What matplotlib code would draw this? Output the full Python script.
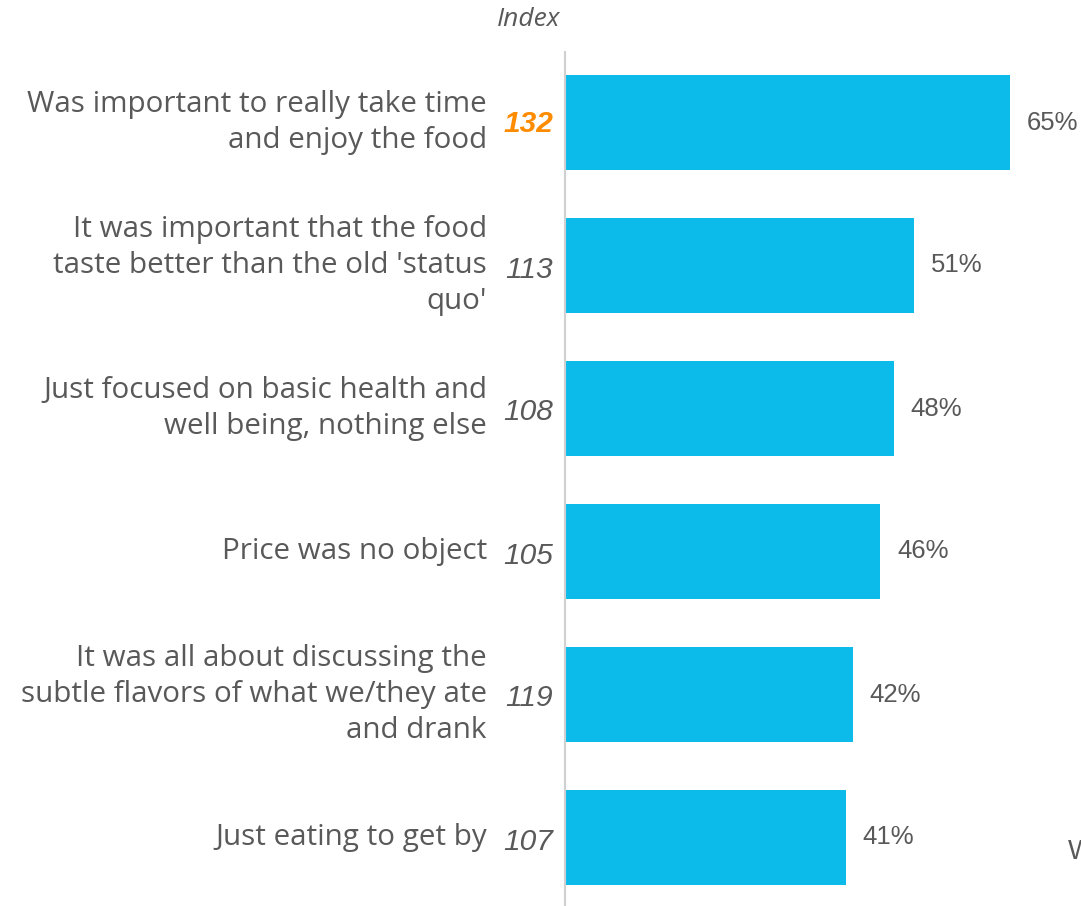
import matplotlib.pyplot as plt

labels = ["Was important to really take time\nand enjoy the food",
          "It was important that the food\ntaste better than the old 'status\nquo'",
          "Just focused on basic health and\nwell being, nothing else",
          "Price was no object",
          "It was all about discussing the\nsubtle flavors of what we/they ate\nand drank",
          "Just eating to get by"]
values = [65, 51, 48, 46, 42, 41]
index_vals = [132, 113, 108, 105, 119, 107]

W, H = 1081, 906
fig = plt.figure(figsize=(W / 100, H / 100), dpi=100)
# axes: left edge at 565px, top at 52px, down to bottom of figure
ax = fig.add_axes([565 / W, 0, 1 - 565 / W, 1 - 52 / H])

pitch = 143.0
ax.set_ylim((906 - 122.5) / pitch, -(122.5 - 52) / pitch)
ax.set_xlim(0, (W - 565) / (445 / 65))

pos = list(range(len(values)))
ax.barh(pos, values, height=95 / pitch, color="#0DBBEB")

for s in ["top", "right", "bottom"]:
    ax.spines[s].set_visible(False)
ax.spines["left"].set_color("#D0D0D0")
ax.spines["left"].set_linewidth(1.5)
ax.set_xticks([])
ax.set_yticks([])

gray = "#595959"
for i, (lab, v, idx) in enumerate(zip(labels, values, index_vals)):
    ax.text(v + 2.5, i, f"{v}%", va="center", ha="left", fontsize=18.5,
            color=gray, family="Liberation Sans")
    ax.annotate(lab, xy=(0, i), xytext=(-78, 0), textcoords="offset pixels",
                ha="right", va="center", fontsize=21.3, color=gray,
                family="Open Sans", linespacing=1.3)
    if i == 0:
        ax.annotate(str(idx), xy=(0, i), xytext=(-12, -2), textcoords="offset pixels",
                    ha="right", va="center", fontsize=21.5, color="#FF8C00",
                    style="italic", weight="bold", family="Liberation Sans")
    else:
        ax.annotate(str(idx), xy=(0, i), xytext=(-12, -4), textcoords="offset pixels",
                    ha="right", va="center", fontsize=21.5, color=gray,
                    style="italic", family="Liberation Sans")

fig.text(529 / W, 1 - 19 / H, "Index", ha="center", va="center", fontsize=19,
         color=gray, style="italic", family="Open Sans")
fig.text(1068 / W, 1 - 852 / H, "W", ha="left", va="center", fontsize=20,
         color=gray, family="Liberation Sans")

fig.savefig("out.png", dpi=100)
